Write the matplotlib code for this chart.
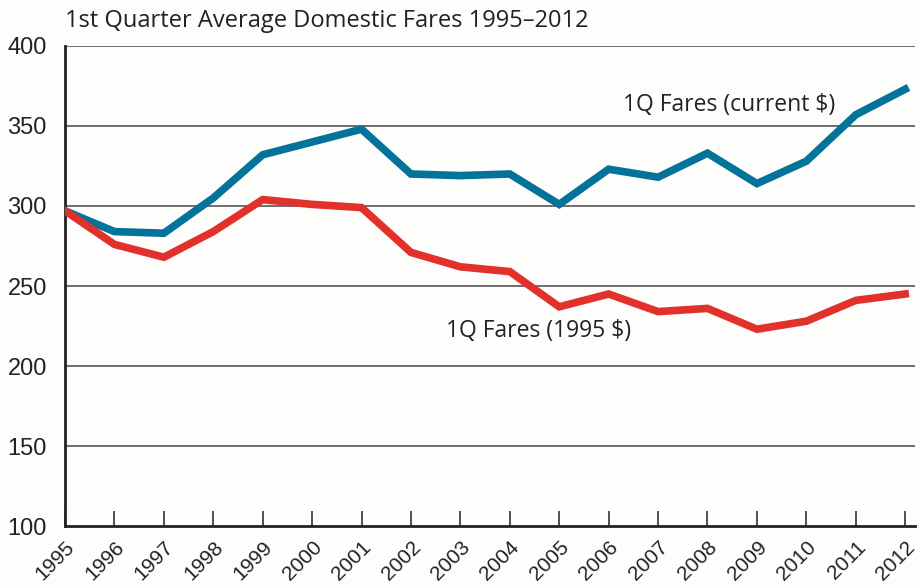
import matplotlib
matplotlib.use("Agg")
import matplotlib.pyplot as plt

# data
years = list(range(1995, 2013))
fares_current = [297, 284, 283, 305, 332, 340, 348, 320, 319, 320,
                 301, 323, 318, 333, 314, 328, 357, 373]
fares_1995 = [297, 276, 268, 284, 304, 301, 299, 271, 262, 259,
              237, 245, 234, 236, 223, 228, 241, 245]
yticks = [100, 150, 200, 250, 300, 350, 400]

blue = "#03739a"
red = "#e2302b"

fig = plt.figure(figsize=(9.18, 5.88), dpi=100)
fig.patch.set_facecolor("#fdfdfb")
ax = fig.add_axes([0.0708, 0.1054, 0.926, 0.8164])
ax.set_facecolor("#fdfdfb")

# gridlines
for v in yticks[1:]:
    ax.axhline(v, color="#6e6e6e", lw=1.4, zorder=1)

ax.plot(years, fares_current, color=blue, lw=5.5, solid_joinstyle="miter", zorder=3)
ax.plot(years, fares_1995, color=red, lw=5.5, solid_joinstyle="miter", zorder=3)

ax.set_xlim(1995, 2012.2)
ax.set_ylim(100, 400)

for s in ["top", "right"]:
    ax.spines[s].set_visible(False)
for s in ["left", "bottom"]:
    ax.spines[s].set_linewidth(2)
    ax.spines[s].set_color("#222222")

ax.set_yticks(yticks)
ax.set_yticklabels([str(v) for v in yticks], family="Liberation Sans", fontsize=17, color="#222222")
ax.tick_params(axis="y", length=0, pad=13)

ax.set_xticks(years)
ax.set_xticklabels([str(y) for y in years], rotation=45, ha="right", va="top",
                   rotation_mode="anchor", family="Liberation Sans", fontsize=15, color="#222222")
ax.tick_params(axis="x", direction="in", length=11, width=1.2, color="#333333", pad=8)

lab_font = "Open Sans"
ax.text(2006.3, 363, "1Q Fares (current $)", fontsize=16.5, family=lab_font, color="#222222",
        ha="left", va="center")
ax.text(2002.7, 222, "1Q Fares (1995 $)", fontsize=16.5, family=lab_font, color="#222222",
        ha="left", va="center")

fig.text(0.0708, 0.965, "1st Quarter Average Domestic Fares 1995\u20132012", fontsize=17,
         family=lab_font, color="#222222", ha="left", va="center")

fig.savefig("out.png", dpi=100, facecolor=fig.get_facecolor())
